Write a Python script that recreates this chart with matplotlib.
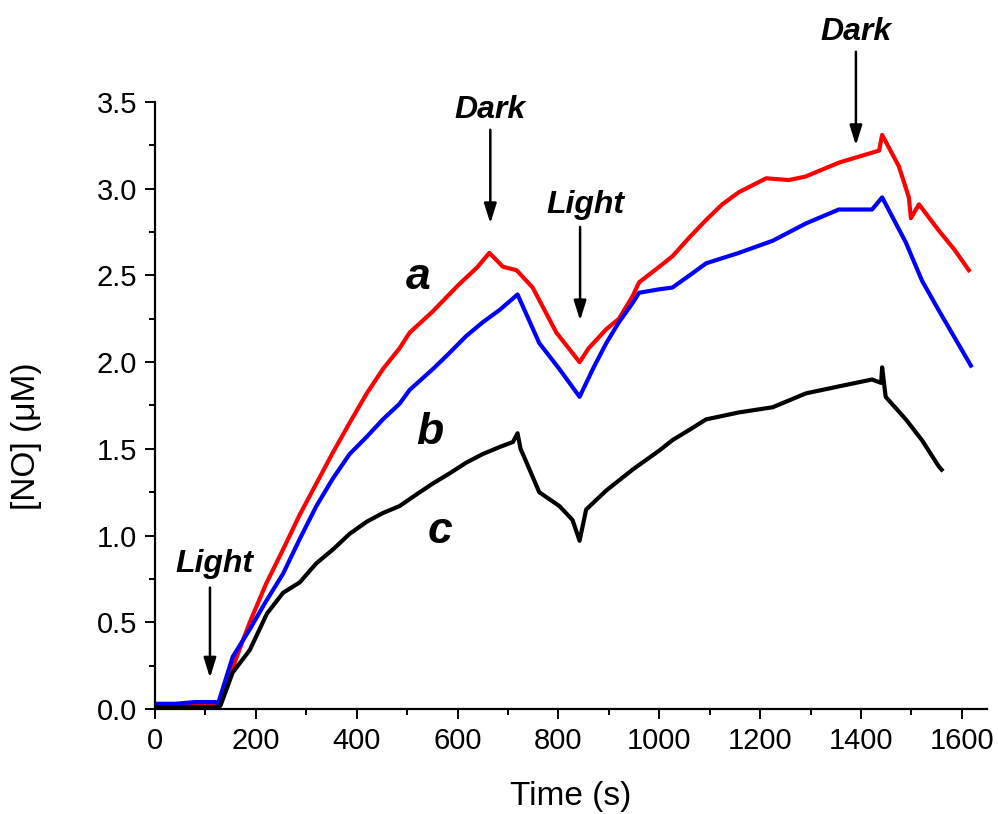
import matplotlib
matplotlib.use("Agg")
import matplotlib.pyplot as plt
from matplotlib.ticker import MultipleLocator

plt.rcParams['font.family'] = ['Liberation Sans', 'DejaVu Sans']

# curve a (red)
t_a = [0, 40, 80, 120, 128, 162, 188, 220, 254, 287, 320, 353, 386, 420, 452, 485, 505,
       550, 600, 640, 663, 690, 717, 749, 796, 842, 860, 895, 920, 947, 960, 1000, 1026,
       1060, 1093, 1125, 1158, 1212, 1257, 1290, 1323, 1356, 1390, 1436, 1442, 1475,
       1495, 1499, 1515, 1554, 1585, 1614]
y_a = [0.02, 0.02, 0.02, 0.02, 0.03, 0.30, 0.50, 0.72, 0.92, 1.12, 1.30, 1.48, 1.65, 1.82,
       1.96, 2.08, 2.17, 2.29, 2.44, 2.55, 2.63, 2.55, 2.53, 2.43, 2.17, 2.00, 2.08, 2.19,
       2.25, 2.38, 2.46, 2.55, 2.61, 2.72, 2.82, 2.91, 2.98, 3.06, 3.05, 3.07, 3.11, 3.15,
       3.18, 3.22, 3.31, 3.13, 2.95, 2.83, 2.91, 2.76, 2.65, 2.53]

# curve b (blue)
t_b = [0, 40, 80, 120, 125, 154, 188, 220, 254, 287, 320, 353, 386, 420, 452, 485, 505,
       551, 583, 617, 650, 683, 719, 762, 802, 842, 870, 895, 920, 947, 960, 1000, 1026,
       1060, 1093, 1158, 1225, 1291, 1356, 1422, 1442, 1489, 1521, 1554, 1588, 1618]
y_b = [0.03, 0.03, 0.04, 0.04, 0.03, 0.30, 0.46, 0.62, 0.78, 0.98, 1.17, 1.33, 1.47, 1.57,
       1.67, 1.76, 1.84, 1.96, 2.05, 2.15, 2.23, 2.30, 2.39, 2.11, 1.96, 1.80, 1.97, 2.11,
       2.23, 2.34, 2.40, 2.42, 2.43, 2.50, 2.57, 2.63, 2.70, 2.80, 2.88, 2.88, 2.95, 2.69,
       2.47, 2.30, 2.13, 1.98]

# curve c (black)
t_c = [0, 40, 80, 125, 130, 154, 188, 222, 254, 287, 320, 353, 386, 420, 452, 485, 520,
       551, 585, 617, 650, 683, 710, 719, 725, 737, 762, 802, 828, 842, 855, 895, 947,
       1000, 1026, 1060, 1093, 1158, 1225, 1291, 1356, 1422, 1440, 1442, 1449, 1489,
       1521, 1554, 1560]
y_c = [0.01, 0.01, 0.01, 0.01, 0.02, 0.21, 0.34, 0.55, 0.67, 0.73, 0.84, 0.92, 1.01, 1.08,
       1.13, 1.17, 1.24, 1.30, 1.36, 1.42, 1.47, 1.51, 1.54, 1.59, 1.50, 1.42, 1.25, 1.17,
       1.09, 0.97, 1.15, 1.26, 1.38, 1.49, 1.55, 1.61, 1.67, 1.71, 1.74, 1.82, 1.86, 1.90,
       1.88, 1.97, 1.80, 1.67, 1.55, 1.40, 1.38]

curve_labels = ['a', 'b', 'c']
curve_label_pos = [(521, 2.42), (545, 1.53), (566, 0.96)]

event_labels = ['Light', 'Dark', 'Light', 'Dark']
event_text_pos = [(118, 0.79), (665, 3.41), (853, 2.86), (1390, 3.86)]
event_arrow_x = [109, 665, 843, 1390]
event_arrow_y0 = [0.70, 3.34, 2.78, 3.79]
event_arrow_y1 = [0.18, 2.80, 2.24, 3.25]

fig = plt.figure(figsize=(9.98, 8.14), dpi=100)
ax = fig.add_axes([0.1553, 0.129, 0.8337, 0.7457])

ax.plot(t_a, y_a, color='#FF0000', lw=3, zorder=3)
ax.plot(t_b, y_b, color='#0000FF', lw=3, zorder=3)
ax.plot(t_c, y_c, color='black', lw=3, zorder=3)

ax.set_xlim(0, 1650)
ax.set_ylim(0, 3.5)
ax.xaxis.set_major_locator(MultipleLocator(200))
ax.xaxis.set_minor_locator(MultipleLocator(100))
ax.yaxis.set_major_locator(MultipleLocator(0.5))
ax.yaxis.set_minor_locator(MultipleLocator(0.25))
ax.yaxis.set_major_formatter(plt.FuncFormatter(lambda v, p: f"{v:.1f}"))

for s in ['top', 'right']:
    ax.spines[s].set_visible(False)
for s in ['left', 'bottom']:
    ax.spines[s].set_linewidth(1.6)

ax.tick_params(which='major', direction='out', length=7, width=1.4, labelsize=21, pad=6)
ax.tick_params(which='minor', direction='out', length=4, width=1.4)

ax.set_xlabel('Time (s)', fontsize=24)
ax.set_ylabel('[NO] (\u03bcM)', fontsize=24)
ax.xaxis.set_label_coords(0.5, -0.118)
ax.yaxis.set_label_coords(-0.136, 0.45)

for lab, (x, y) in zip(curve_labels, curve_label_pos):
    ax.text(x, y, lab, fontsize=32, fontweight='bold', fontstyle='italic',
            ha='center', va='baseline')

for lab, (tx, ty), ax_x, y0, y1 in zip(event_labels, event_text_pos, event_arrow_x,
                                        event_arrow_y0, event_arrow_y1):
    ax.text(tx, ty, lab, fontsize=23, fontweight='bold', fontstyle='italic',
            ha='center', va='baseline', clip_on=False)
    ax.annotate('', xy=(ax_x, y1), xytext=(ax_x, y0),
                arrowprops=dict(arrowstyle='-|>,head_length=0.8,head_width=0.25',
                                lw=1.8, color='black', mutation_scale=15,
                                shrinkA=0, shrinkB=0),
                annotation_clip=False)

fig.savefig('out.png', dpi=100)
